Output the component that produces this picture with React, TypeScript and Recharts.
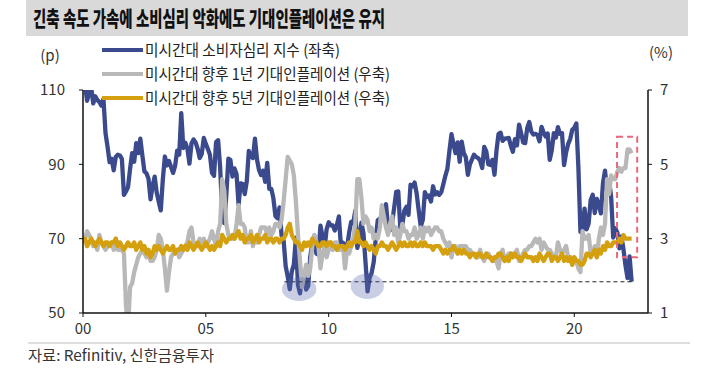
import React from 'react';
import { LineChart, Line, XAxis, YAxis, ReferenceLine, ReferenceArea } from 'recharts';

// Monthly data, Jan 2000 .. May 2022 (x = years since 2000)
const sentiment = [
  112.0, 111.3, 107.1, 109.2, 110.7, 106.4, 108.3, 107.3, 106.8, 105.8, 107.6, 98.4,
  94.7, 90.6, 91.5, 88.4, 92.0, 92.6, 92.4, 91.5, 81.8, 82.7, 83.9, 88.8,
  93.0, 90.7, 95.7, 93.0, 96.9, 92.4, 88.1, 87.6, 86.1, 80.6, 84.2, 86.7,
  82.4, 79.9, 77.6, 86.0, 92.1, 89.7, 90.9, 89.3, 87.7, 89.6, 93.7, 92.6,
  103.8, 94.4, 95.8, 94.2, 90.2, 95.6, 96.7, 95.9, 94.2, 91.7, 92.8, 97.1,
  95.5, 94.1, 92.6, 87.7, 86.9, 96.0, 96.5, 89.1, 76.9, 74.2, 81.6, 91.5,
  91.2, 86.7, 88.9, 87.4, 79.1, 84.9, 84.7, 82.0, 85.4, 93.6, 92.1, 91.7,
  96.9, 91.3, 88.4, 87.1, 88.3, 85.3, 90.4, 83.4, 83.4, 80.9, 76.1, 75.5,
  78.4, 70.8, 69.5, 62.6, 59.8, 56.4, 61.2, 63.0, 70.3, 57.6, 55.3, 60.1,
  61.2, 56.3, 57.3, 65.1, 68.7, 70.8, 66.0, 65.7, 73.5, 70.6, 67.4, 72.5,
  74.4, 73.6, 73.6, 72.2, 73.6, 76.0, 67.8, 68.9, 68.2, 67.7, 71.6, 74.5,
  74.2, 77.5, 67.5, 69.8, 74.3, 71.5, 63.7, 55.8, 59.5, 60.8, 63.7, 69.9,
  75.0, 75.3, 76.2, 76.4, 79.3, 73.2, 72.3, 74.3, 78.3, 82.6, 82.7, 72.9,
  73.8, 77.6, 78.6, 76.4, 84.5, 84.1, 85.1, 82.1, 77.5, 73.2, 75.1, 82.5,
  81.2, 81.6, 80.0, 84.1, 81.9, 82.5, 81.8, 82.5, 84.6, 86.9, 88.8, 93.6,
  98.1, 95.4, 93.0, 95.9, 90.7, 96.1, 93.1, 91.9, 87.2, 90.0, 91.3, 92.6,
  92.0, 91.7, 91.0, 89.0, 94.7, 93.5, 90.0, 89.8, 91.2, 87.2, 93.8, 98.2,
  98.5, 96.3, 96.9, 97.0, 97.1, 95.0, 93.4, 96.8, 95.1, 100.7, 98.5, 95.9,
  95.7, 99.7, 101.4, 98.8, 98.0, 98.2, 97.9, 96.2, 100.1, 98.6, 97.5, 98.3,
  91.2, 93.8, 98.4, 97.2, 100.0, 98.2, 98.4, 89.8, 93.2, 95.5, 96.8, 99.3,
  99.8, 101.0, 89.1, 71.8, 72.3, 78.1, 72.5, 74.1, 80.4, 81.8, 76.9, 80.7,
  79.0, 76.8, 84.9, 88.3, 82.9, 85.5, 81.2, 70.3, 72.8, 71.7, 67.4, 70.6,
  67.2, 62.8, 59.4, 65.2, 58.4,
];

const inflation1y = [
  2.9, 3.0, 3.2, 3.1, 3.0, 2.8, 2.9, 2.7, 3.1, 2.9, 2.8, 2.7,
  2.8, 2.8, 2.9, 2.7, 3.0, 2.7, 2.7, 2.7, 2.6, 1.2, 0.6, 1.7,
  1.8, 2.1, 2.3, 2.5, 2.6, 2.7, 2.6, 2.5, 2.6, 2.4, 2.4, 2.5,
  2.7, 3.1, 3.0, 2.7, 2.2, 1.6, 2.1, 2.5, 2.6, 2.6, 2.7, 2.5,
  2.6, 2.7, 2.8, 2.9, 3.2, 3.3, 2.9, 2.8, 2.8, 3.0, 2.9, 3.0,
  2.8, 2.9, 3.0, 3.2, 3.0, 2.8, 3.2, 3.4, 4.6, 4.3, 3.4, 3.1,
  3.0, 3.0, 3.0, 3.4, 3.9, 3.4, 3.4, 3.3, 2.9, 2.9, 3.2, 2.8,
  3.0, 2.9, 3.1, 3.3, 3.3, 3.3, 3.1, 3.3, 3.1, 3.2, 3.4, 3.4,
  3.3, 3.5, 4.0, 4.6, 5.2, 5.1, 5.0, 4.7, 4.0, 3.1, 2.4, 1.7,
  2.0, 2.3, 2.0, 2.2, 2.8, 3.1, 2.9, 2.8, 2.2, 2.6, 2.8, 2.5,
  2.7, 2.9, 2.7, 2.9, 2.9, 2.7, 2.7, 2.8, 2.2, 2.7, 2.6, 2.8,
  3.0, 3.4, 4.6, 4.6, 4.1, 3.4, 3.6, 3.5, 3.2, 3.3, 3.0, 3.1,
  3.0, 3.3, 3.9, 3.6, 3.3, 3.1, 3.4, 3.6, 3.1, 3.3, 2.9, 3.1,
  3.4, 3.2, 3.2, 3.0, 3.1, 3.1, 3.3, 3.0, 3.1, 3.3, 3.0, 3.3,
  3.2, 3.3, 3.1, 3.2, 3.3, 3.3, 3.2, 3.2, 3.0, 2.9, 2.8, 2.9,
  2.5, 2.8, 2.8, 2.6, 2.8, 2.8, 2.8, 2.8, 2.7, 2.7, 2.6, 2.6,
  2.5, 2.5, 2.7, 2.5, 2.4, 2.6, 2.6, 2.5, 2.4, 2.4, 2.4, 2.2,
  2.6, 2.7, 2.4, 2.5, 2.6, 2.6, 2.6, 2.6, 2.7, 2.4, 2.5, 2.6,
  2.7, 2.7, 2.8, 2.8, 2.9, 3.0, 2.9, 3.0, 2.7, 2.9, 2.8, 2.7,
  2.7, 2.6, 2.5, 2.5, 2.9, 2.7, 2.6, 2.7, 2.8, 2.5, 2.5, 2.3,
  2.5, 2.4, 2.2, 2.1, 3.2, 3.0, 3.0, 3.1, 2.6, 2.6, 2.8, 2.5,
  3.0, 3.3, 3.1, 3.4, 4.6, 4.2, 4.7, 4.6, 4.6, 4.8, 4.9, 4.8,
  4.9, 4.9, 5.4, 5.4, 5.3,
];

const inflation5y = [
  2.9, 3.0, 2.8, 2.9, 3.0, 2.9, 2.8, 2.9, 3.0, 2.9, 2.8, 2.9,
  2.9, 2.8, 2.9, 2.9, 3.0, 2.8, 2.9, 2.8, 2.7, 2.8, 2.9, 2.8,
  2.8, 2.9, 2.7, 2.8, 2.9, 2.7, 2.8, 2.6, 2.7, 2.5, 2.6, 2.8,
  2.7, 2.8, 2.7, 2.6, 2.7, 2.8, 2.7, 2.7, 2.8, 2.6, 2.7, 2.7,
  2.8, 2.7, 2.8, 2.7, 2.9, 2.8, 2.7, 2.8, 2.9, 2.8, 2.7, 2.8,
  2.9, 2.8, 2.7, 2.8, 2.7, 2.8, 2.9, 2.8, 3.1, 3.0, 2.9, 3.0,
  3.0, 3.1, 3.0, 3.1, 3.2, 3.0, 3.1, 2.9, 3.0, 3.0, 3.1, 2.9,
  3.0, 3.1, 2.9, 3.0, 3.0, 3.1, 2.9, 3.0, 3.0, 2.9, 3.0, 3.0,
  2.9, 3.0, 3.0, 3.1, 3.3, 3.4, 3.1, 3.0, 2.9, 2.9, 2.8, 2.7,
  2.9, 2.8, 2.9, 2.8, 3.0, 2.9, 2.9, 2.8, 2.8, 2.9, 2.9, 2.8,
  2.9, 2.9, 2.8, 2.8, 2.7, 2.8, 2.8, 2.8, 2.7, 2.8, 2.9, 2.8,
  2.9, 2.9, 3.2, 2.9, 2.9, 2.8, 2.9, 2.8, 2.7, 2.8, 2.7, 2.6,
  2.8, 2.8, 2.9, 2.8, 2.8, 2.7, 2.8, 2.9, 2.8, 2.7, 2.8, 2.9,
  2.8, 2.9, 2.8, 2.8, 2.9, 2.8, 2.9, 2.8, 2.8, 2.9, 2.8, 2.9,
  2.8, 2.8, 2.8, 2.7, 2.8, 2.8, 2.8, 2.7, 2.6, 2.7, 2.6, 2.7,
  2.7, 2.8, 2.7, 2.6, 2.7, 2.6, 2.7, 2.6, 2.6, 2.5, 2.6, 2.6,
  2.5, 2.6, 2.6, 2.5, 2.5, 2.6, 2.5, 2.5, 2.4, 2.5, 2.5, 2.6,
  2.6, 2.5, 2.4, 2.5, 2.4, 2.6, 2.5, 2.6, 2.5, 2.5, 2.4, 2.5,
  2.6, 2.5, 2.5, 2.5, 2.4, 2.5, 2.4, 2.6, 2.5, 2.4, 2.5, 2.6,
  2.6, 2.4, 2.5, 2.5, 2.4, 2.5, 2.6, 2.4, 2.5, 2.4, 2.5, 2.3,
  2.5, 2.4, 2.4, 2.3, 2.3, 2.4, 2.6, 2.6, 2.5, 2.6, 2.7, 2.5,
  2.7, 2.6, 2.8, 2.7, 2.9, 2.8, 2.8, 2.9, 2.9, 2.9, 3.0, 2.9,
  3.1, 3.0, 3.0, 3.0, 3.0,
];

const xTicks = [0, 5, 10, 15, 20];
const xTickLabels = ['00', '05', '10', '15', '20'];
const leftTicks = [50, 70, 90, 110];
const rightTicks = [1, 3, 5, 7];

const seriesNames = [
  '미시간대 소비자심리 지수 (좌축)',
  '미시간대 향후 1년 기대인플레이션 (우축)',
  '미시간대 향후 5년 기대인플레이션 (우축)',
];
const seriesColors = ['#3a4a8c', '#b8b8b8', '#d4a00e'];
const titleText = '긴축 속도 가속에 소비심리 악화에도 기대인플레이션은 유지';
const sourceText = '자료: Refinitiv, 신한금융투자';

// annotations (data coordinates)
const lowMarks = [
  { x1: 8.1, x2: 9.5, y1: 53.2, y2: 59.6 },
  { x1: 10.9, x2: 12.25, y1: 53.8, y2: 60.6 },
];
const recentLevel = 58.4;
const recentFrom = 8.2;
const recentTo = 22.33;
const recentBox = { x1: 21.74, x2: 22.56, y1: 2.5, y2: 5.74 };

const data = sentiment.map((v, i) => ({
  t: i / 12,
  s: v,
  a: inflation1y[i],
  b: inflation5y[i],
}));

const FONT = '"Noto Sans CJK KR", "Noto Sans", sans-serif';

const Ellipse = (p: any) => (
  <ellipse
    cx={p.x + p.width / 2}
    cy={p.y + p.height / 2}
    rx={Math.abs(p.width) / 2}
    ry={Math.abs(p.height) / 2}
    fill="rgba(88,104,170,0.32)"
    stroke="none"
  />
);

export default function App() {
  const legendY = [50, 74, 98];
  const legendLen = [195, 245, 245];
  return (
    <div style={{ position: 'absolute', left: 0, top: 0, width: 721, height: 375, background: '#fff' }}>
      <div style={{ position: 'absolute', left: 0, top: 0 }}>
        <LineChart
          width={721}
          height={375}
          data={data}
          margin={{ top: 90, right: 33, bottom: 32, left: 43 }}
        >
          <XAxis
            dataKey="t"
            type="number"
            domain={[0, 23]}
            ticks={xTicks}
            allowDataOverflow
            tickFormatter={(v: number) => xTickLabels[xTicks.indexOf(v)] ?? ''}
            axisLine={{ stroke: '#111', strokeWidth: 1.5 }}
            tickLine={{ stroke: '#111' }}
            tickSize={4}
            tickMargin={6}
            height={30}
            tick={{ fill: '#333', fontSize: 15, fontFamily: FONT }}
          />
          <YAxis
            yAxisId="left"
            orientation="left"
            domain={[50, 110]}
            ticks={leftTicks}
            allowDataOverflow
            width={40}
            axisLine={{ stroke: '#111', strokeWidth: 1.5 }}
            tickLine={{ stroke: '#111' }}
            tickSize={4}
            tickMargin={14}
            tick={{ fill: '#333', fontSize: 15, fontFamily: FONT }}
          />
          <YAxis
            yAxisId="right"
            orientation="right"
            domain={[1, 7]}
            ticks={rightTicks}
            allowDataOverflow
            width={40}
            axisLine={{ stroke: '#111', strokeWidth: 1.5 }}
            tickLine={{ stroke: '#111' }}
            tickSize={4}
            tickMargin={8}
            tick={{ fill: '#333', fontSize: 15, fontFamily: FONT }}
          />
          <Line
            yAxisId="left"
            dataKey="s"
            stroke={seriesColors[0]}
            strokeWidth={4.3}
            dot={false}
            strokeLinejoin="round"
            isAnimationActive={false}
          />
          <Line
            yAxisId="right"
            dataKey="a"
            stroke={seriesColors[1]}
            strokeWidth={4.3}
            dot={false}
            strokeLinejoin="round"
            isAnimationActive={false}
          />
          <Line
            yAxisId="right"
            dataKey="b"
            stroke={seriesColors[2]}
            strokeWidth={4.3}
            dot={false}
            strokeLinejoin="round"
            isAnimationActive={false}
          />
          {lowMarks.map((m, i) => (
            <ReferenceArea
              key={i}
              yAxisId="left"
              x1={m.x1}
              x2={m.x2}
              y1={m.y1}
              y2={m.y2}
              shape={Ellipse}
              {...({ zIndex: 1200 } as any)}
            />
          ))}
          <ReferenceLine
            yAxisId="left"
            segment={[
              { x: recentFrom, y: recentLevel },
              { x: recentTo, y: recentLevel },
            ]}
            stroke="#222"
            strokeWidth={1}
            strokeDasharray="4 3"
          />
          <ReferenceArea
            yAxisId="right"
            x1={recentBox.x1}
            x2={recentBox.x2}
            y1={recentBox.y1}
            y2={recentBox.y2}
            fill="none"
            fillOpacity={0}
            stroke="#e8697a"
            strokeWidth={2}
            strokeDasharray="6 4"
            {...({ zIndex: 1200 } as any)}
          />
        </LineChart>
      </div>
      <svg
        width={721}
        height={375}
        style={{ position: 'absolute', left: 0, top: 0, pointerEvents: 'none' }}
        fontFamily={FONT}
      >
        <rect x={26} y={0} width={662} height={36} fill="#d9d9d9" />
        <text
          x={33}
          y={26}
          fontSize={21}
          fontWeight={900}
          fill="#111"
          textLength={352}
          lengthAdjust="spacingAndGlyphs"
        >
          {titleText}
        </text>
        <text x={50} y={61} fontSize={15} fill="#333" textAnchor="middle">(p)</text>
        <text x={661} y={58} fontSize={15} fill="#333" textAnchor="middle">(%)</text>
        {seriesNames.map((name, i) => (
          <g key={i}>
            <line x1={102} x2={143} y1={legendY[i]} y2={legendY[i]} stroke={seriesColors[i]} strokeWidth={4} />
            <text
              x={145}
              y={legendY[i] + 5.5}
              fontSize={15.5}
              fill="#222"
              textLength={legendLen[i]}
              lengthAdjust="spacingAndGlyphs"
            >
              {name}
            </text>
          </g>
        ))}
        <line x1={28} x2={690} y1={343} y2={343} stroke="#bdbdbd" strokeWidth={1} />
        <text
          x={28}
          y={361}
          fontSize={15}
          fill="#333"
          textLength={186}
          lengthAdjust="spacingAndGlyphs"
        >
          {sourceText}
        </text>
      </svg>
    </div>
  );
}
